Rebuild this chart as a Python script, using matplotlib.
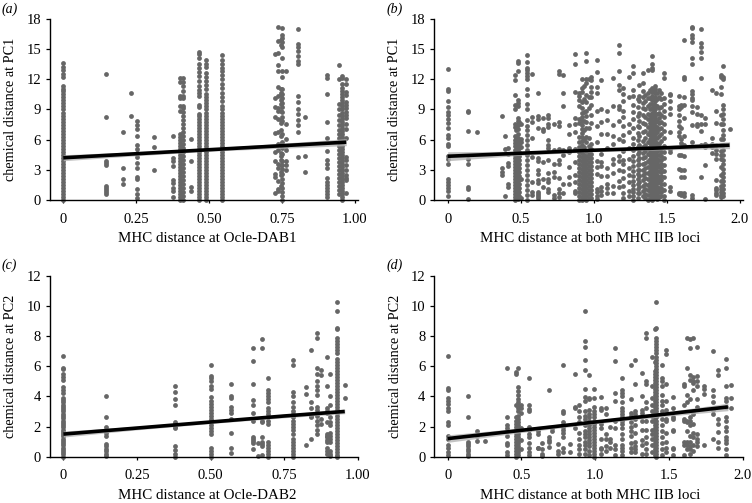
import matplotlib
matplotlib.use("Agg")
import matplotlib.pyplot as plt

plt.rcParams['font.family'] = ['Liberation Serif', 'DejaVu Serif']

W, H = 752, 503
DOT = '#666666'

# ---------- panel (a) ----------
a_x = [0, 0.145, 0.205, 0.232, 0.252, 0.31, 0.375, 0.40, 0.41, 0.437, 0.465, 0.49, 0.545,
       0.725, 0.735, 0.745, 0.75, 0.765, 0.805, 0.83, 0.905, 0.945, 0.955, 0.97]
a_y = [
 [0,.3,.6,.9,1.2,1.5,1.8,2.1,2.4,2.7,3,3.3,3.6,3.9,4.2,4.5,4.8,5.1,5.4,5.7,6,6.3,6.6,6.9,7.2,7.5,7.8,8.1,8.4,8.7,9,9.3,9.6,9.9,10.2,10.5,10.8,11,11.3,12.2,12.5,12.9,13.2,13.6],
 [12.5,8.25,3.9,3.7,3.5,1.4,1.2,1.0,.8,.6],
 [6.8,3.2,2.1,1.6],
 [10.6,8.35],
 [7.9,7.5,7.1,6.4,5.5,5.1,4.7,4.3,3.7,3.2,2.3,2.1,1.1,.6,.2],
 [6.3,5.3,3.0],
 [6.4,4.2,3.9,3.4,2.0,1.7,1.2,.9,.3],
 [0,.3,.6,.9,1.2,1.5,1.8,2.1,2.4,2.7,3,3.3,3.6,3.9,4.2,4.5,4.8,5.1,5.4,5.7,6,6.3,6.6,8.9,9.3,10.1,10.3,11.7,12.1],
 [0,.4,.8,1.2,1.6,2,2.4,2.8,3.2,3.6,4,4.4,4.8,5.2,5.6,6,6.4,6.8,7.2,7.6,8,8.4,8.8,9.1,9.3,10.1,10.3,10.8,11.3,11.7,12.1],
 [6.1,3.9,1.3,.9],
 [0,.3,.6,.9,1.2,1.5,1.8,2.1,2.4,2.7,3,3.3,3.6,3.9,4.2,4.5,4.8,5.1,5.4,5.7,6,6.3,6.6,6.9,7.2,7.5,7.8,8.1,8.4,8.6,9.2,9.4,10.3,10.6,10.9,11.3,11.8,12.3,12.7,13.1,13.5,14.1,14.5,14.7],
 [0,.3,.6,.9,1.2,1.5,1.8,2.1,2.4,2.7,3,3.3,3.6,3.9,4.2,4.5,4.8,5.1,5.4,5.7,6,6.3,6.6,6.9,7.2,7.5,7.8,8.1,8.4,8.7,9,9.3,9.6,9.9,10.2,10.5,11,11.4,11.8,12.2,12.6,13.2,13.5,13.9],
 [0,.3,.6,.9,1.2,1.5,1.8,2.1,2.4,2.7,3,3.3,3.6,3.9,4.2,4.5,4.8,5.1,5.4,5.7,6,6.3,6.6,6.9,7.2,7.5,7.8,8.1,8.4,8.7,9,9.3,9.8,10.2,10.6,11.1,11.5,12,12.4,12.8,13.1,13.5,13.9,14.4],
 [14.5,10.1,9.2,8.3,6.7,4.8,3.9,2.6,2.3,.7],
 [17.2,15.8,14.6,13.4,12.8,11.2,10.3,9.1,8.9,8.1,6.8,5.6,5.0,3.6,3.2,1.9,1.1,.9],
 [15.9,15.4,11,10.6,10.4,9.9,9.5,8.9,8,7.7,7,6.4,5.6,4.7,4.4,4,3.5,2.8,2.5,1.4],
 [17.1,16.4,16.1,15.7,15.2,14.1,12.8,12.2,11,10.5,10.1,9.6,9.2,8.8,8.3,7.9,6.6,5.8,5.2,4.6,3.9,3.5,3.1,2.6,2.1,1.7,1.2,.8,.4,0],
 [12.8,7.6,6.1,5.4,5,3.9,3.5,3],
 [17,15.5,15.2,14.8,14.3,13.8,13.5,10.3,9.7,9,8.6,8,7.5,6.8,4.3],
 [8.3,4.4,2.8],
 [12.4,12.1,10.5,7.8,6.2,4.9,4,3.6,3.2,2.2,1.8,1.5,1.2,.9,.6,.3],
 [13.4,12,9.5,9,8.5,8,7.5,7,6.6,6.2,5.8,5.4,5,4.6,4.2,3.8,3.4,3,2.6,2.2,1.8,1.4,1,.6],
 [12.3,12.1,11.5,11.1,10.8,10.5,10.2,9.9,9.6,9.3,9,8.7,8.4,8.1,7.8,7.5,7.2,6.9,6.6,6.3,6,5.7,5.4,5.1,4.8,4.5,4.2,3.9,3.6,3.3,3,2.7,2.4,2.1,1.8,1.5,1.2,.9,.6,.3,0],
 [12,11.5,10.7,10.4,9.7,9.4,9.1,8.8,8.5,8.2,7.6,7.1,6.2,4.3,4,3.5,3,2.5,2.2,2,.7],
]
a_fit_x = [0, 0.25, 0.5, 0.75, 0.97]
a_fit_y = [4.2, 4.6, 5.0, 5.4, 5.75]
a_fit_lo = [3.9, 4.4, 4.85, 5.15, 5.4]
a_fit_hi = [4.5, 4.8, 5.15, 5.65, 6.1]

# ---------- panel (b) ----------
b_x = [0, .14, .2, .375, .39, .41, .46, .48, .5, .54, .58, .62, .65, .69, .73, .76, .79, .83, .87,
       .9, .92, .95, .98, 1.02, 1.05, 1.09, 1.13, 1.17, 1.2, 1.24, 1.27, 1.31, 1.34, 1.37, 1.4, 1.42, 1.45,
       1.48, 1.52, 1.585, 1.6, 1.62, 1.67, 1.71, 1.735, 1.76, 1.81, 1.84, 1.87, 1.885, 1.93,
       .47, .49, .935, .965, 1.3, 1.35, 1.385, 1.41, 1.435, 1.46]
b_y = [
 [13,11,10.8,9.8,9.2,8.8,8.5,8.1,7.7,7.2,6.5,6.2,5.6,5.4,4.4,4.1,3.6,2.1,1.8,1.5,1.2,.9,.4],
 [8.9,8.8,6.9,4.1,3.6,1.3,1.1,.1],
 [6.8],
 [8.4,3.2,2.8,2.5],
 [6.4,.4,5.1],
 [5.2,4.6,3.7,3.4,1.6,1.3],
 [12.4,11.9,10.4,9.4,9,7.6,7.3,6.4,6,5.7,5.4,5,4.5,4.2,3.9,3.6,3.3,3,2.7,2.4,2.1,1.8,1.5,1.2,.9,.6,.3,0],
 [13.8,13.6,12.8,9.9,9.6,9.3,8.2,7.9,7.5,7.1,6.6,6.2,5.9,5.6,5.3,4.7,4.4,4.1,3.7,3.3,2.9,2.5,2,1.5,1,.5,.1],
 [7.6,6.1,5.3,2.1,.2,5.8],
 [14.4,13.7,13.1,12.9,12.6,12.3,12,11,10.4,9.5,9,8,7.4,7,6.5,6,5.5,5,4.5,4,3.5,3,2.5,2,1.5,1,.5,0],
 [12.5,8.3,7.8,6.2,4.3,1.8,.8,.5],
 [10.6,8.4,8.1,7.2,4.2,3.9,3,2.6,2,1.7,.8,.6,.4,.2],
 [8.2,7.1,6.9,3.8,2.1,1.3],
 [8.5,8.2,7.6,7.3,6,5.5,5.2,4,2.7,2.1,1.8,1.1,.8],
 [5,3.6,2.8,2.3,.5,.2,7.6],
 [12.8,12.5,7.8,7.4,5.1,4,3.6,2.2,1.1,.7,.3],
 [12.4,10.6,9.3,5,4.5,1.6,.7],
 [7.5,6.6,5.2,4.8,3.3,2.3,1.6],
 [14.5,13.5,10.7,8.2,7.6,6.8,5.1,3.8,2.5,1.8,.9,.7],
 [10.6,10.3,9.9,9.3,8.1,7.7,6.3,5.8,5.3,4.8,4.4,4,3.6,3.2,2.8,2.4,2,1.6,1.2,.8,.4,0],
 [12,11.1,10.7,9.7,9.1,8.7,8.3,7.9,7.5,7.1,6.7,6.3,5.9,5.5,5.1,4.7,4.3,3.9,3.5,3.1,2.7,2.3,1.9,1.5,1.1,.7,.3,0],
 [14.6,13.8,12,11.6,10.4,9.7,8.9,8.4,7.8,7.2,6.3,5.8,4.9,4.4,4,3.6,3.2,2.8,2.4,2,1.6,1.2,.8,.4,0],
 [12.2,11.9,11.2,10.7,10.2,9.4,8.5,7.7,5.6,5.1,4.6,4.2,3.8,3.4,3,2.6,2.2,1.8,1.4,1,.6,.2],
 [13.9,12.7,11.2,10.6,8.9,7.4,5.8,3.9,3.3,2.6,1.1,.8,.4,.1],
 [11.9,9,7.8,6.6,4.6,3.8,3.4,2.4,1.3,.9,.5],
 [8.9,8,6.6,5.2,3.2,2.4,1.6,1.2,.7],
 [12.1,9.3,7.5,6.4,5.6,4.1,3.6,2.7,1.4,.7],
 [15.4,14.6,12.8,11.4,10.9,9.3,9,7.9,6.1,4.4,3.9,3,1.9,1.3],
 [11.1,10.5,9.8,8.9,8.3,7.4,6.5,5.9,4.9,4,3.6,2.9,2.2,1.4,.7,.2],
 [12.2,10.2,7.6,6.8,5.2,4.1,3.2,2.5,1.8,.9,.4],
 [13.3,12.6,10.9,10.3,9.4,8.8,8.1,7.2,6.2,5.6,5,4.4,3.9,3.4,2.9,2.4,1.9,1.5,1.1,.8,.4,0],
 [11.4,10.3,9.8,8.7,7.9,7.3,6.4,5.5,4.8,4.2,3.6,3,2.4,1.8,1.3,.7],
 [12.6,11.6,10.8,10.2,9.6,9.1,8.5,7.7,6.8,5.9,5.3,4.7,4.2,3.6,3,2.5,2,1.4,.9,.4],
 [12.9,10.6,10.1,9.3,8.6,8.1,7.3,6.6,5.8,5.2,4.6,3.9,3.3,2.7,2.1,1.5,1,.5,0],
 [14.3,13.5,13.1,12.9,11.1,10.7,10.3,9.9,9.5,9.1,8.7,8.3,7.9,7.5,7.1,6.7,6.3,5.9,5.5,5.1,4.7,4.3,3.9,3.5,3.1,2.7,2.3,1.9,1.5,1.1,.7,.3,0],
 [11.3,11,10.6,10.2,9.8,9.4,9,8.6,8.2,7.8,7.4,7,6.6,6.2,5.8,5.4,5,4.6,4.2,3.8,3.4,3,2.6,2.2,1.8,1.4,1,.6,.2],
 [10.9,10.2,9.1,8.7,8.2,7.7,7.1,6.4,5.6,5.1,4.5,4,3.4,2.9,2.3,1.8,1.2,.8,.3],
 [12.6,12.1,10.1,9.5,8.9,8.3,7.6,6.9,6.2,5.4,4.8,4.2,3.5,2.9,2.3,1.6,1,.4,0],
 [10.5,10.4,9.8,9.1,8.6,6.8,5.1,4.8,1.3,.9],
 [10.3,9.3,9,8.5,7.9,7.4,6.8,6.4,4.5,3.1,.7,.6],
 [9.4,9.2,7.2,6.1,5.7,4.5,3,2.3,.7,.5],
 [15.9,12.2,12,10.2,9.4,8.2,6.4,5.5,4.4,3,2.3,.7,.4],
 [17.2,17.1,16.4,16.1,15.7,14.1,13.5,10.8,10.5,10.1,9.9,9.3,8.8,7.5,5.8,.5,.2],
 [9.2,8.6,7.6,7.4],
 [17,15.6,15.2,14.7,14.1,12.1,8.5,7.6,6.9,5.5,2.3],
 [8.2,7.6,5.6,5.3,3.5,.1],
 [10.9,6.2,5.6,5.3,4.7],
 [10.6,8.9,7.7,5.5,5,4.6,4.1,2,1.2,1,.7,.5],
 [12.4,12.2,11.2,10.5,8.5,7.6,6.1,5.5,4.9,4.5,4.1,3.3,2.5,1.9,1.4,1.1,.8,.5,.3],
 [13.3,12.2,12,9.4,9,8.6,8.1,7.6,7,6.5,6.1,5.5,5,4.5,4,3.6,3.1,2.7,2.3,1.9,1.5,1.1,.7,.4],
 [7.1],
 [.2,.6,1,1.4,1.8,2.2,2.6,3,3.4,3.8,4.2,4.6,5,5.4,5.8,6.2,7,7.5],
 [.4,.8,1.2,1.6,2,2.4,2.8,3.2,3.6,4,4.4,4.8,5.2,5.6,6,7.8],
 [.1,.5,.9,1.3,1.7,2.1,2.5,2.9,3.3,3.7,4.1,4.5,5.3,6.1,7,7.9,8.8,10,11.3],
 [.2,.6,1,1.4,1.8,2.2,2.6,3,3.4,3.8,4.2,4.6,5.4,6.2,7.2,9.1,10.2,12],
 [.2,.7,1.1,1.6,2.1,2.6,3,3.5,4,4.6,5.3,6,6.7,7.4,8.4,9.2,10],
 [.2,.6,1.1,1.6,2.2,2.7,3.2,3.7,4.3,4.9,5.5,6.2,6.9,7.6,8.3,9,9.8,10.4],
 [.1,.5,.9,1.3,1.7,2.1,2.5,2.9,3.3,3.7,4.1,4.5,4.9,5.3,5.7,6.1,6.5,6.9,7.3,7.7,8.1,8.5,9,9.5,10.1,10.9],
 [.3,.7,1.1,1.5,1.9,2.3,2.7,3.1,3.5,3.9,4.3,4.7,5.1,5.5,5.9,6.3,6.7,7.1,7.5,7.9,8.4,8.9,9.4,10,10.8],
 [.1,.5,.9,1.3,1.7,2.1,2.5,2.9,3.3,3.7,4.1,4.5,4.9,5.3,5.7,6.2,6.8,7.3,7.9,8.6,9.3,10,10.6],
 [.4,.8,1.2,1.6,2,2.4,2.8,3.2,3.6,4,4.4,4.8,5.2,5.9,6.6,7.2,7.8,8.5,9.2,10,10.6],
]
b_fit_x = [0, 0.5, 1.0, 1.5, 1.93]
b_fit_y = [4.35, 4.65, 4.95, 5.2, 5.45]
b_fit_lo = [3.9, 4.45, 4.8, 5.0, 5.1]
b_fit_hi = [4.8, 4.85, 5.1, 5.4, 5.8]

# ---------- panel (c) ----------
c_x = [0, .145, .38, .5, .57, .645, .66, .675, .695, .78, .825, .84, .86, .875, .895, .905, .93, .955]
c_y = [
 [0,.15,.3,.45,.6,.75,.9,1.05,1.2,1.35,1.5,1.65,1.8,1.95,2.1,2.25,2.4,2.55,2.7,2.85,3,3.15,3.3,3.45,3.6,3.75,3.9,4.2,4.4,4.6,5.1,5.3,5.5,5.8,5.9,6.7],
 [4.05,2.65,2,1.8,1.6,1.4,.85,.7,.5,.35,.2,.05],
 [4.7,4.3,3.85,3.45,2.3,2.15,2,1.9,.7,.45,.2,0],
 [0,.2,.4,.6,1.5,1.7,1.9,2.1,2.3,2.5,2.7,2.9,3.1,3.3,3.5,3.7,3.95,4.5,4.7,5,5.2,5.35,6.05],
 [4.85,4,3.9,3.3,3.1,2.9,2.5,1.6,.55,.25],
 [7.2,6.35,4.8,3.75,3.4,2.9,2.4,1.3,1.2,1.05,.9,.5],
 [.9,.05],
 [7.8,7.2,2.4,2.3,1.3,1,.85,.7,.1],
 [5.25,4.4,4.2,4,3.8,3.6,3.2,3,2.8,2.6,2.4,2.2,1,.8,.6,.4,.2,0],
 [6.4,6.05,4.3,4,3.6,3.3,3,2.8,2.6,2.4,2.2,2,1.8,1.5,1.2,1,.8,.6,.4,.2,0],
 [4.6,4.15,.8],
 [7.05,3.6,3.25,2.7,2.6,1.2],
 [8.2,7.9,5.85,5.5,5,4.7,4.4,4.1,3.3,3.1,2.7,2.4,2.1,1.8,1.5],
 [5.75,5.4,2.5,2.2],
 [6.6,4.7,3.2,3,2.9,2.3,1.5,1.4,1.3,1.1,1,.6,.4,.15],
 [5.45,4,3.4,2.6,2.3,2.1,1.6,1.4,1.2,1,.4,.2,.05],
 [10.25,9.65,8.5,8.45,7.9,7.7,7.5,7.3,7.1,6.9,6.5,6.3,6.1,5.9,5.7,5.5,5.3,5.1,4.9,4.7,4.5,4.3,4.1,3.9,3.7,3.5,3.3,3.1,2.9,2.7,2.5,2.3,2.1,1.9,1.7,1.5,1.3,1.1,.9,.7,.5,.3,.1,0],
 [4.75,3.9],
]
c_fit_x = [0, 0.25, 0.5, 0.75, 0.955]
c_fit_y = [1.5, 1.9, 2.3, 2.7, 3.0]
c_fit_lo = [1.3, 1.78, 2.2, 2.58, 2.85]
c_fit_hi = [1.7, 2.02, 2.4, 2.82, 3.15]

# ---------- panel (d) ----------
d_x = [0, .14, .2, .25, .4, .46, .48, .5, .55, .61, .64, .69, .71, .75, .78, .83, .86, .89, .93, .96, .99,
       1.04, 1.07, 1.1, 1.135, 1.18, 1.245, 1.27, 1.32, 1.345, 1.385, 1.405, 1.415, 1.45, 1.48, 1.53, 1.6, 1.62, 1.64, 1.66, 1.69, 1.74, 1.8, 1.83, 1.89, 1.92]
d_y = [
 [6.7,4.55,4.4,3.9,3.7,3.5,3.2,3,2.3,2.1,1.4,1.2,.8,.6,.3,.1],
 [4.05,2.65,1,.85,.7,.5,.35,.2,.05],
 [1.7,1.4,1.05],
 [1.05],
 [5.85,2.6,2.1,1.9,1.7,1.4,.9,.8,.3,.1],
 [5.6,5.5,3.4,2.6,2.4,2.2,2,1.8,1.6,1.4,1.2,1,.8,.6,.4,.2,0],
 [5.9,4.6,4.35,4.1,3.8,3.6,3.4,3.2,3,2.7,2.5,2.3,2.1,1.9,1.7,1.5,1.3,1.1,.9,.7,.5,.3,.1],
 [3.4,3.2,2.9,1.9,1.1,.5],
 [5.2,3.4,3.15,3.05,2,1.8,1.5,1.3,.9,.6,.3,.1],
 [1.7,1.5,.6,.55],
 [.9,.5,.2,.05],
 [4.45,1.3,1.1,.95,.65],
 [1.7,1.9],
 [.85,.35,.15],
 [6.1,3,2.9,2.3,2,1.8,1.55,1.3,.6,.3],
 [.85,.3],
 [5.5,3.2,3.3,1.9],
 [3.4,3,2.6,2.3,1.6,1.2,.8,.5,.2],
 [9.65,7.7,7.25,6.4,5.75,4.5,3.95,3.7,3,2.7,2.5,2.1,1.7,1.5,1.3,1,.8,.5,.2],
 [5.4,3.9,3.8,3.1,2.8,2.6,2.4,2.1,1.9,1.7,1.5,1.3,1.1,.9,.7,.4,.1],
 [4.5,3.9,3.3,3,2.8,2.6,2.4,2.2,2,1.8,1.6,1.4,1.2,1,.8,.6,.4,.2,0],
 [3.95,3.2,3.1,2.2,1.9,1.2,.6,.5,.2],
 [3.2,2.8,1.5,1.2,.7,.4],
 [2,1.2,1,.55],
 [7.2,6.35,4.2,3.7,2.4,1.9,.8,.5,.1],
 [5.25,4.4,4.2,4,3.6,3.2,3,2.8,2.6,2.4,2.2,1.9,1.5,1.2,.8,.6,.4,.1],
 [6.05,3.8,2.9,2.7,2.3,2,1.7,1.4,.9,.6,.3],
 [6.4,4.8,3,2.8,2.5,2.1,1.6,1,.7,.5,.3],
 [5.55,4,3.1,2.9,2.4,1.8,1.1,.8,.2],
 [8.2,7.9,5,4.8,3.6,3.2,2.4,1.8,1.3,.9,.5,.2],
 [6.6,4.7,3.9,3.4,3,2.7,2.4,1.8,1.5,1.2,.8,.3],
 [8.45,6.3,5.7,5.5,5.3,5.1,4.9,4.7,4.5,4.3,4.1,3.9,3.7,3.5,3.3,3.1,2.9,2.7,2.5,2.3,2.1,1.9,1.7,1.5,1.3,1.1,.9,.7,.5,.3,.1],
 [10.25,8.5,7.9,7.7,7.5,7.3,7.1,6.9,6.6,6.4,6.2,6,5.8,5.6,5.4,5.2,5,4.8,4.6,4.4,4.2,4,3.8,3.6,3.4,3.2,3,2.8,2.6,2.4,2.2,2,1.8,1.6,1.4,1.2,1,.8,.6,.4,.2,0],
 [6.1,5.2,5,4.7,4.1,3.7,3.4,3,2.5,2.1,1.7,1.3,.9,.5,.1],
 [7.05,6.8,4.8,3.7,3.1,2.5,2.4,1.6,1,.55,.3],
 [3.95,3.2,2.6,2.5,1.8,1.7,.6,.5,.1],
 [3.4,2.5,2.4,4.8,4.7,1,.8,.1],
 [7.85,5.85,4.1,3.6,2.4,2.3,1.7,1,.8,.5],
 [7.8,7.2,5.4,5.1,3.8,2.6,2.4,2.1,1.4,1,.7,.5,.2],
 [7.9,5.3,5,4.9,4.4,3,2.8,2.2,1.6,1.3,.8,.4],
 [7.3,5.35,5,4.7,3.8,3.3,1.5,1.2,1,.7],
 [4.7,4.5,4.15,.8],
 [7,4.4,4,3.6,3.1,2.8,1.2],
 [5.75,5.4,2.5,2.2,1.65,.95,.6],
 [6.5,5.85,4.7,3.9,3.7,3.3,2.6,2.4,2,1.7,1.3,1.1,.9,.5,.1],
 [4.75,3.9,3.2],
]
d_fit_x = [0, 0.5, 1.0, 1.5, 1.9]
d_fit_y = [1.2, 1.75, 2.3, 2.85, 3.3]
d_fit_lo = [0.95, 1.6, 2.18, 2.7, 3.05]
d_fit_hi = [1.45, 1.9, 2.42, 3.0, 3.55]

tick_a = [0, 0.25, 0.50, 0.75, 1.00]
tick_a_labels = ['0', '0.25', '0.50', '0.75', '1.00']
tick_b = [0, 0.5, 1.0, 1.5, 2.0]
tick_b_labels = ['0', '0.5', '1.0', '1.5', '2.0']
y_pc1 = [0, 3, 6, 9, 12, 15, 18]
y_pc2 = [0, 2, 4, 6, 8, 10, 12]

panels = [
    dict(xs=a_x, ys=a_y, fx=a_fit_x, fy=a_fit_y, lo=a_fit_lo, hi=a_fit_hi, box=(50, 358, 19, 200), xlim=(-0.0455, 1.0103),
         ticks=tick_a, tl=tick_a_labels, yt=y_pc1, yl='chemical distance at PC1', xl='MHC distance at Ocle-DAB1', tag='(a)', tagx=2, tagy=9, xc=207, xy=238),
    dict(xs=b_x, ys=b_y, fx=b_fit_x, fy=b_fit_y, lo=b_fit_lo, hi=b_fit_hi, box=(434.3, 742.7, 19, 200), xlim=(-0.0918, 2.02),
         ticks=tick_b, tl=tick_b_labels, yt=y_pc1, yl='chemical distance at PC1', xl='MHC distance at both MHC IIB loci', tag='(b)', tagx=387, tagy=9, xc=590, xy=238),
    dict(xs=c_x, ys=c_y, fx=c_fit_x, fy=c_fit_y, lo=c_fit_lo, hi=c_fit_hi, box=(50, 358, 275.7, 456.7), xlim=(-0.0455, 1.0),
         ticks=tick_a, tl=tick_a_labels, yt=y_pc2, yl='chemical distance at PC2', xl='MHC distance at Ocle-DAB2', tag='(c)', tagx=2, tagy=265, xc=207, xy=495.5),
    dict(xs=d_x, ys=d_y, fx=d_fit_x, fy=d_fit_y, lo=d_fit_lo, hi=d_fit_hi, box=(434.3, 742.7, 275.7, 456.7), xlim=(-0.0905, 2.0),
         ticks=tick_b, tl=tick_b_labels, yt=y_pc2, yl='chemical distance at PC2', xl='MHC distance at both MHC IIB loci', tag='(d)', tagx=387, tagy=265, xc=590, xy=495.5),
]

fig = plt.figure(figsize=(W / 100, H / 100), dpi=100)
for p in panels:
    assert len(p['xs']) == len(p['ys'])
    l, r, t, b = p['box']
    ax = fig.add_axes([l / W, 1 - b / H, (r - l) / W, (b - t) / H])
    px, py = [], []
    for x, col in zip(p['xs'], p['ys']):
        px += [x] * len(col)
        py += col
    ax.scatter(px, py, s=12, color=DOT, linewidths=0, zorder=2, clip_on=False)
    ax.fill_between(p['fx'], p['lo'], p['hi'], color='#b5b5b5', alpha=0.8, linewidth=0, zorder=3)
    ax.plot(p['fx'], p['fy'], color='black', lw=2.6, zorder=4, solid_capstyle='butt')
    ax.set_xlim(*p['xlim'])
    ax.set_ylim(p['yt'][0], p['yt'][-1])
    ax.set_xticks(p['ticks'], p['tl'])
    ax.set_yticks(p['yt'])
    ax.tick_params(axis='y', labelsize=10.5, length=3, width=0.9, pad=3.5)
    ax.tick_params(axis='x', labelsize=10.5, length=2.2, width=0.9, pad=7)
    for s in ('top', 'right'):
        ax.spines[s].set_visible(False)
    for s in ('left', 'bottom'):
        ax.spines[s].set_linewidth(1.0)
    ax.set_ylabel(p['yl'], fontsize=10.3, labelpad=6.5)
    ax.set_xlabel(p['xl'], fontsize=10.8)
    ax.xaxis.set_label_coords((p['xc'] - l) / (r - l), (b - p['xy']) / (b - t), transform=ax.transAxes)
    ax.xaxis.label.set_verticalalignment('center')
    fig.text(p['tagx'] / W, 1 - p['tagy'] / H, p['tag'], fontsize=10, style='italic', va='center', ha='left')

fig.savefig('out.png', dpi=100)
